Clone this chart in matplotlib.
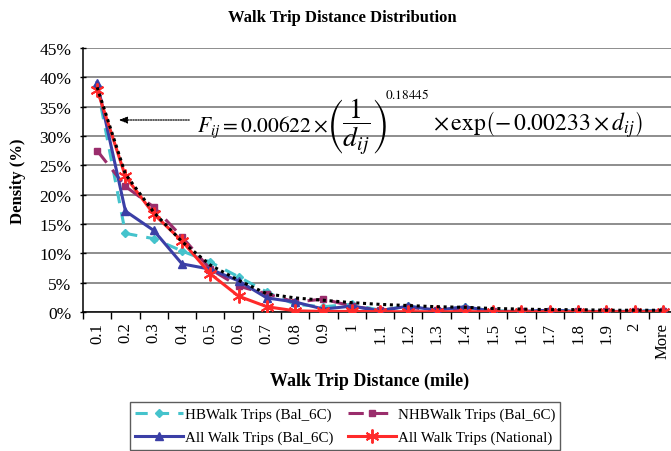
import matplotlib
matplotlib.use("Agg")
import matplotlib.pyplot as plt
from matplotlib.ticker import FixedLocator, PercentFormatter

# Distance bins (miles)
categories = ['0.1', '0.2', '0.3', '0.4', '0.5', '0.6', '0.7', '0.8', '0.9', '1',
              '1.1', '1.2', '1.3', '1.4', '1.5', '1.6', '1.7', '1.8', '1.9', '2', 'More']

# Trip density (%) per distance bin
hb_walk = [38.5, 13.4, 12.5, 10.4, 8.5, 6.0, 3.4, 1.3, 0.9, 1.3, 0.3,
           1.0, 0.3, 0.8, 0.2, 0.1, 0.3, 0.1, 0.1, 0.1, 0.3]
nhb_walk = [27.5, 21.4, 17.9, 12.8, 7.3, 4.4, 3.1, 1.7, 2.2, 1.0, 0.3,
            0.8, 0.3, 0.5, 0.1, 0.1, 0.1, 0.1, 0.1, 0.1, 0.1]
all_bal = [39.1, 17.2, 13.9, 8.2, 7.3, 5.3, 2.4, 1.7, 0.5, 1.0, 0.2,
           1.0, 0.3, 0.9, 0.1, 0.1, 0.3, 0.1, 0.1, 0.1, 0.2]
all_national = [37.9, 23.1, 16.7, 12.1, 6.5, 2.7, 0.9, 0.2, 0.1, 0.1, 0.05,
                0.05, 0.05, 0.05, 0.05, 0.05, 0.05, 0.05, 0.05, 0.05, 0.05]
fitted = [38.3, 23.5, 17.0, 12.0, 8.0, 5.4, 3.1, 2.4, 2.0, 1.6, 1.3,
          1.1, 0.9, 0.8, 0.6, 0.5, 0.4, 0.4, 0.3, 0.3, 0.3]

W, H = 671, 452
plt.rcParams['font.family'] = ['Liberation Serif', 'DejaVu Serif']
plt.rcParams['mathtext.fontset'] = 'stix'

fig = plt.figure(figsize=(W / 100, H / 100), dpi=100)
fig.patch.set_facecolor('white')


def fx(px):
    return px / W


def fy(py):
    return 1 - py / H


ax = fig.add_axes([fx(83), fy(313), (677 - 83) / W, (313 - 49) / H])
x = list(range(len(categories)))

ax.plot(x, hb_walk, color='#45c3cc', ls=(0, (4, 3)), lw=2.2, marker='D',
        ms=4.5, label='HBWalk Trips (Bal_6C)', zorder=3)
ax.plot(x, nhb_walk, color='#9a2d6c', ls=(0, (5, 3)), lw=2.2, marker='s',
        ms=5, label='NHBWalk Trips (Bal_6C)', zorder=3)
ax.plot(x, all_bal, color='#3b3fa6', ls='-', lw=2.2, marker='^',
        ms=6, label='All Walk Trips (Bal_6C)', zorder=4)
ax.plot(x, all_national, color='#ff2a2a', ls='-', lw=2.2, marker=(6, 2, 0),
        ms=10, mew=1.4, label='All Walk Trips (National)', zorder=4)
ax.plot(x, fitted, color='black', ls=(0, (1, 1.2)), lw=2.2, zorder=5)

ax.set_xlim(-0.5, len(categories) - 0.5)
ax.set_ylim(0, 45)
ax.yaxis.set_major_locator(FixedLocator(range(0, 46, 5)))
ax.yaxis.set_major_formatter(PercentFormatter(decimals=0))
ax.set_xticks(x)
ax.set_xticklabels(categories, rotation=90, fontsize=12)
ax.xaxis.set_minor_locator(FixedLocator([i - 0.5 for i in range(len(categories) + 1)]))
ax.tick_params(axis='x', which='major', length=0, pad=7)
ax.tick_params(axis='x', which='minor', length=5, direction='out', width=1)
ax.tick_params(axis='y', which='major', length=5, direction='inout', width=1,
               labelsize=12.5, pad=6)

ax.grid(axis='y', color='#7a7a7a', lw=1.2)
ax.set_axisbelow(True)
for s in ['top', 'right']:
    ax.spines[s].set_visible(False)
for s in ['left', 'bottom']:
    ax.spines[s].set_color('black')
    ax.spines[s].set_linewidth(1.1)

fig.text(fx(342), fy(18), 'Walk Trip Distance Distribution', ha='center', va='center',
         fontsize=12, fontweight='bold')
fig.text(fx(18), fy(181), 'Density (%)', ha='center', va='center', rotation=90,
         fontsize=12, fontweight='bold')
fig.text(fx(370), fy(381), 'Walk Trip Distance (mile)', ha='center', va='center',
         fontsize=13, fontweight='bold')

# Fitted gravity function, written in pieces, and its pointer
fig.text(fx(197), fy(127), r'$F_{ij} = 0.00622\times$',
         ha='left', va='center', fontsize=15.5)
fig.text(fx(326), fy(127), r'$\left(\dfrac{1}{d_{ij}}\right)$',
         ha='left', va='center', fontsize=20)
fig.text(fx(385), fy(95), r'$0.18445$', ha='left', va='center', fontsize=9.5)
fig.text(fx(433), fy(125), r'$\times\,\exp\!\left(-\,0.00233\times d_{ij}\right)$',
         ha='left', va='center', fontsize=17)
ax.annotate('', xy=(fx(116), fy(121)), xycoords='figure fraction',
            xytext=(fx(192), fy(121)), textcoords='figure fraction',
            arrowprops=dict(arrowstyle='-|>,head_length=0.5,head_width=0.2',
                            ls=(0, (1, 1)), lw=0.9, color='black'))

handles, labels = ax.get_legend_handles_labels()
order = [0, 2, 1, 3]
leg = fig.legend([handles[i] for i in order], [labels[i] for i in order],
                 loc='upper left', bbox_to_anchor=(fx(130), fy(403)), ncol=2,
                 fontsize=10.8, frameon=True, fancybox=False, edgecolor='#333333',
                 handlelength=3.2, handletextpad=0.1, columnspacing=1.0,
                 labelspacing=0.65, borderpad=0.35, borderaxespad=0)
leg.get_frame().set_linewidth(1.0)

fig.savefig('out.png', dpi=100, facecolor='white')
